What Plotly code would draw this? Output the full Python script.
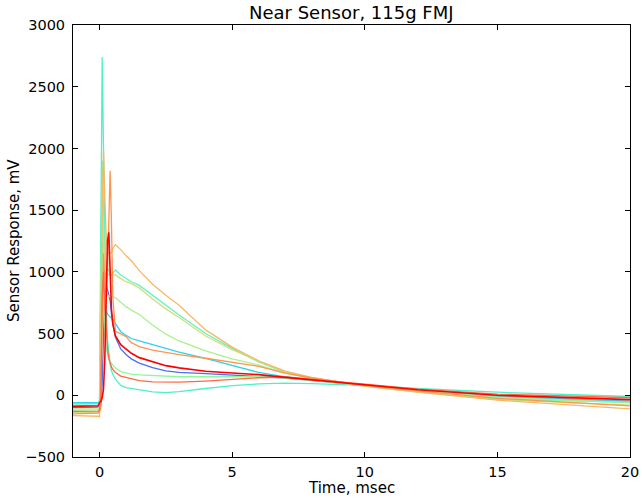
import plotly.graph_objects as go

# Shared time axis (msec)
time_ms = [-1, -0.5, -0.05, 0.0, 0.05, 0.1, 0.15, 0.2, 0.25, 0.3, 0.35, 0.4, 0.45, 0.5,
           0.6, 0.8, 1.0, 1.2, 1.5, 2.0, 2.5, 3.0, 4.0, 5.0, 6.0, 7.0, 8.0, 10.0, 12.0, 15.0, 20.0]

blue = [-100, -100, -95, -90, -80, 100, 500, 850, 900, 850, 800, 770, 660, 580,
        470, 375, 330, 295, 260, 225, 198, 185, 175, 165, 155, 140, 120, 80, 40, -10, -50]
cyan = [-60, -60, -58, -50, 300, 1250, 850, 720, 680, 660, 645, 635, 625, 615,
        580, 515, 485, 460, 440, 410, 375, 350, 300, 240, 185, 150, 125, 80, 40, -10, -50]
aqua_low = [-70, -70, -65, -40, 1500, 2740, 2000, 1200, 700, 450, 320, 250, 200, 170,
            130, 80, 62, 55, 42, 28, 22, 30, 55, 78, 92, 98, 95, 80, 55, 25, -10]
aqua_up = [-80, -80, -78, -60, 800, 1900, 1500, 1150, 1050, 1030, 1000, 980, 970, 990,
           1015, 975, 945, 920, 890, 810, 735, 650, 500, 380, 270, 185, 140, 78, 30, -30, -55]
green_up = [-120, -120, -118, -100, 600, 1650, 1200, 900, 830, 810, 800, 800, 800, 800,
            790, 750, 718, 690, 655, 570, 495, 440, 360, 295, 245, 180, 140, 78, 30, -25, -60]
green_low = [-110, -110, -108, -95, 200, 1200, 800, 500, 380, 320, 290, 270, 255, 240,
             220, 192, 180, 172, 165, 158, 152, 150, 150, 150, 150, 140, 120, 85, 40, -15, -60]
yellowgreen = [-140, -140, -138, -125, 400, 1550, 1250, 1050, 1000, 985, 975, 975, 975, 975,
               975, 945, 920, 905, 870, 780, 700, 630, 480, 370, 275, 190, 140, 75, 25, -35, -80]
yelloworange = [-165, -165, -170, -175, 300, 1500, 1990, 1600, 1300, 1180, 1150, 1150, 1160, 1190,
                1220, 1180, 1130, 1090, 1010, 900, 810, 730, 530, 390, 280, 195, 145, 75, 25, -40, -110]
orange = [-150, -150, -145, -130, -100, 600, 1150, 900, 800, 1000, 1400, 1820, 1400, 800,
          520, 495, 475, 426, 395, 365, 345, 330, 300, 265, 235, 180, 140, 80, 35, -25, -85]
redorange = [-130, -130, -128, -120, 0, 800, 1000, 700, 500, 380, 300, 260, 230, 210,
             185, 155, 145, 135, 118, 108, 105, 106, 115, 130, 142, 148, 130, 90, 50, 10, -20]
red = [-90, -90, -85, -60, -50, -20, 50, 300, 800, 1250, 1320, 950, 700, 580,
       480, 410, 375, 340, 305, 270, 240, 222, 195, 180, 167, 145, 125, 85, 45, 0, -35]

series = [
    (blue, "#4a6ef6"),
    (cyan, "#30d2e8"),
    (aqua_low, "#4ef0c8"),
    (aqua_up, "#5ef5c0"),
    (green_up, "#aaf08e"),
    (green_low, "#8ef89a"),
    (yellowgreen, "#d2dc80"),
    (yelloworange, "#f8b862"),
    (orange, "#ff9452"),
    (redorange, "#ff6a42"),
    (red, "#ff0000"),
]

x_ticks = [0, 5, 10, 15, 20]
y_ticks = [-500, 0, 500, 1000, 1500, 2000, 2500, 3000]
y_tick_text = ["\u2212500", "0", "500", "1000", "1500", "2000", "2500", "3000"]

FONT = "DejaVu Sans"

fig = go.Figure()
for vals, col in series:
    fig.add_trace(go.Scatter(x=time_ms, y=vals, mode="lines",
                             line=dict(color=col, width=1.6 if col == "#ff0000" else 1.3),
                             showlegend=False, hoverinfo="skip"))

axis_common = dict(showline=True, linecolor="black", linewidth=1, mirror="ticks",
                   ticks="inside", ticklen=5, tickwidth=1, tickcolor="black",
                   showgrid=False, zeroline=False, automargin=False,
                   tickfont=dict(family=FONT, size=14.5, color="black"))

fig.update_layout(
    width=642, height=503,
    margin=dict(l=73, r=12, t=25, b=46, autoexpand=False),
    paper_bgcolor="white", plot_bgcolor="white",
    xaxis=dict(range=[-1, 20], tickvals=x_ticks, ticktext=[str(v) for v in x_ticks],
               ticklabelstandoff=2, **axis_common),
    yaxis=dict(range=[-500, 3000], tickvals=y_ticks, ticktext=y_tick_text,
               ticklabelstandoff=4, **axis_common),
    annotations=[
        dict(text="Near Sensor, 115g FMJ", xref="paper", yref="paper", x=0.5, y=(457 - 12) / 432,
             xanchor="center", yanchor="middle", showarrow=False,
             font=dict(family=FONT, size=18, color="black")),
        dict(text="Time, msec", xref="paper", yref="paper", x=0.5, y=(457 - 488) / 432,
             xanchor="center", yanchor="middle", showarrow=False,
             font=dict(family=FONT, size=15, color="black")),
        dict(text="Sensor Response, mV", xref="paper", yref="paper", x=(14 - 73) / 557,
             y=(457 - 241) / 432, xanchor="center", yanchor="middle", textangle=-90,
             showarrow=False, font=dict(family=FONT, size=15, color="black")),
    ],
)

fig.write_html("out.html", config={"displayModeBar": False, "staticPlot": True},
               post_script="document.body.style.margin='0';document.body.style.overflow='hidden';")
